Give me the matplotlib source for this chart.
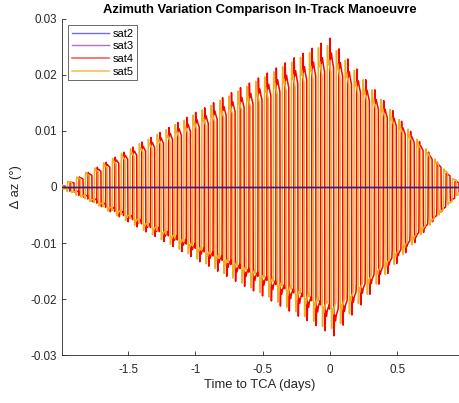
import matplotlib
matplotlib.use("Agg")
import matplotlib.pyplot as plt
import numpy as np

plt.rcParams["font.family"] = ["Liberation Sans", "DejaVu Sans"]

# time span of the flat series (days to TCA)
t_span = [-1.995, 0.952]
sat2_vals = [0.0, 0.0]
sat3_vals = [0.0, 0.0]

# start of each oscillation cycle (days) for sat4
cycle_start = [-1.999, -1.933, -1.866, -1.800, -1.733, -1.667, -1.600, -1.534, -1.467,
               -1.401, -1.334, -1.268, -1.201, -1.135, -1.068, -1.002, -0.935, -0.869,
               -0.802, -0.736, -0.669, -0.603, -0.536, -0.470, -0.403, -0.337, -0.270,
               -0.204, -0.137, -0.071, -0.004, 0.063, 0.129, 0.196, 0.262, 0.329,
               0.395, 0.462, 0.528, 0.595, 0.661, 0.728, 0.794, 0.861, 0.927]
sat5_lead = 0.019  # sat5 edges come a bit before sat4

# peak amplitude of each cycle (deg)
sat4_amp = [0.0002, 0.0009, 0.0018, 0.0026, 0.0035, 0.0044, 0.0053, 0.0062, 0.0071,
            0.0080, 0.0088, 0.0097, 0.0106, 0.0115, 0.0124, 0.0133, 0.0141, 0.0150,
            0.0159, 0.0168, 0.0177, 0.0185, 0.0194, 0.0203, 0.0212, 0.0221, 0.0230,
            0.0238, 0.0247, 0.0256, 0.0265, 0.0246, 0.0228, 0.0210, 0.0191, 0.0173,
            0.0154, 0.0136, 0.0117, 0.0099, 0.0081, 0.0062, 0.0044, 0.0025, 0.0010]
sat5_amp = [0.0004, 0.0010, 0.0018, 0.0026, 0.0034, 0.0043, 0.0051, 0.0060, 0.0068,
            0.0077, 0.0085, 0.0094, 0.0102, 0.0111, 0.0119, 0.0128, 0.0137, 0.0145,
            0.0154, 0.0162, 0.0171, 0.0179, 0.0188, 0.0196, 0.0205, 0.0214, 0.0222,
            0.0231, 0.0239, 0.0248, 0.0252, 0.0243, 0.0226, 0.0208, 0.0191, 0.0173,
            0.0156, 0.0138, 0.0120, 0.0103, 0.0085, 0.0068, 0.0050, 0.0032, 0.0015]

period = 0.0665
# shape of one cycle: (phase, fraction of the cycle amplitude)
shape_phase = [0.00, 0.03, 0.06, 0.10, 0.22, 0.30, 0.46, 0.49, 0.52, 0.56, 0.68, 0.76, 0.97]
shape_frac = [-0.82, 0.80, 1.00, 0.86, 0.90, 0.86, 0.80, -0.80, -1.00, -0.86, -0.90, -0.86, -0.82]


def build_wave(starts, amps, shift):
    ts, ys = [], []
    for t0, a in zip(starts, amps):
        for ph, fr in zip(shape_phase, shape_frac):
            ts.append(t0 - shift + ph * period)
            ys.append(fr * a)
    return np.array(ts), np.array(ys)


t4, y4 = build_wave(cycle_start, sat4_amp, 0.0)
t5, y5 = build_wave(cycle_start, sat5_amp, sat5_lead)

fig = plt.figure(figsize=(4.59, 4.03), dpi=100)
ax = fig.add_axes([0.134, 0.118, 0.865, 0.836])

ax.plot(t4, y4, color="#ff0000", lw=1.1, label="sat4", zorder=2)
ax.plot(t5, y5, color="#edb120", lw=1.1, label="sat5", zorder=3)
ax.plot(t_span, sat2_vals, color="#0000ff", lw=1.0, label="sat2", zorder=4)
ax.plot(t_span, sat3_vals, color="#3a1f6e", lw=1.0, label="sat3", zorder=5)

ax.set_xlim(-1.995, 0.955)
ax.set_ylim(-0.03, 0.03)
ax.set_xticks([-1.5, -1, -0.5, 0, 0.5])
ax.set_xticklabels(["-1.5", "-1", "-0.5", "0", "0.5"])
ax.set_yticks([-0.03, -0.02, -0.01, 0, 0.01, 0.02, 0.03])
ax.set_yticklabels(["-0.03", "-0.02", "-0.01", "0", "0.01", "0.02", "0.03"])
ax.tick_params(direction="in", length=3, labelsize=8.4, colors="#262626", width=0.6)
ax.tick_params(axis="x", pad=6)
for side in ["top", "right"]:
    ax.spines[side].set_visible(False)
for side in ["left", "bottom"]:
    ax.spines[side].set_color("#262626")
    ax.spines[side].set_linewidth(0.6)

ax.set_xlabel("Time to TCA (days)", fontsize=9.4, color="#262626", labelpad=2)
ax.set_ylabel("\u2206 az (\u00b0)", fontsize=9.4, color="#262626", labelpad=6)
ax.set_title("Azimuth Variation Comparison In-Track Manoeuvre", fontsize=9.4,
             fontweight="bold", pad=4)

handles, labels = ax.get_legend_handles_labels()
order = [2, 3, 0, 1]
leg = ax.legend([handles[i] for i in order], [labels[i] for i in order],
                loc="upper left", fontsize=8, frameon=True, fancybox=False,
                borderpad=0.3, labelspacing=0.25, handlelength=3.4, handletextpad=0.3,
                borderaxespad=0.6)
leg.get_frame().set_edgecolor("#262626")
leg.get_frame().set_linewidth(0.6)
leg.legend_handles[0].set_color("#6b6bff")
leg.legend_handles[1].set_color("#b46bc4")
leg.legend_handles[2].set_color("#ff5050")
leg.legend_handles[3].set_color("#f0c050")

fig.savefig("out.png", dpi=100)
